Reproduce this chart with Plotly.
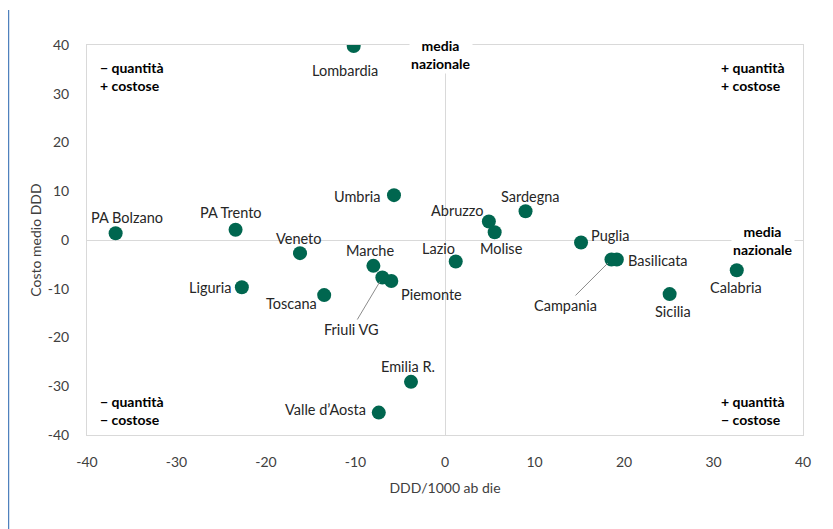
import plotly.graph_objects as go

regions = ["Lombardia", "PA Bolzano", "PA Trento", "Veneto", "Umbria", "Marche",
           "Liguria", "Toscana", "Friuli VG", "Piemonte", "Emilia R.", "Valle d’Aosta",
           "Sardegna", "Abruzzo", "Molise", "Lazio", "Puglia", "Basilicata",
           "Campania", "Calabria", "Sicilia"]
ddd = [-10.2, -36.8, -23.4, -16.2, -5.7, -8.0,
       -22.7, -13.5, -7.0, -6.0, -3.8, -7.4,
       9.0, 4.9, 5.55, 1.2, 15.2, 19.2,
       18.6, 32.6, 25.1]
costo = [39.8, 1.4, 2.1, -2.7, 9.2, -5.3,
         -9.7, -11.3, -7.7, -8.4, -29.1, -35.4,
         5.9, 3.8, 1.6, -4.4, -0.5, -4.0,
         -4.0, -6.2, -11.1]
x_ticks = [-40, -30, -20, -10, 0, 10, 20, 30, 40]
x_tick_labels = ["-40", "-30", "-20", "-10", "0", "10", "20", "30", "40"]
y_ticks = [-40, -30, -20, -10, 0, 10, 20, 30, 40]
y_tick_labels = ["-40", "-30", "-20", "-10", "0", "10", "20", "30", "40"]

# label offsets in pixels (style only)
label_shift = {
    "Lombardia": (-9, -25), "PA Bolzano": (11, 16), "PA Trento": (-5, 17),
    "Veneto": (-2, 15), "Umbria": (-37, -1), "Marche": (-3, 15),
    "Liguria": (-31, 0), "Toscana": (-33, -8), "Piemonte": (40, -14),
    "Emilia R.": (-3, 15), "Valle d’Aosta": (-53, 3), "Sardegna": (5, 15),
    "Abruzzo": (-32, 11), "Molise": (7, -16), "Lazio": (-17, 13),
    "Puglia": (29, 7), "Basilicata": (41, -1), "Calabria": (-1, -17),
    "Sicilia": (3, -17),
}
leader = {"Friuli VG": (-31, 52), "Campania": (-46, 46)}

FONT = "Lato"
TXT = "#262626"
TICK = "#404040"
GRID = "#d9d9d9"
LSIZE = 14.5

fig = go.Figure()
fig.add_trace(go.Scatter(
    x=ddd, y=costo, mode="markers",
    marker=dict(size=14, color="#00664F"),
    hoverinfo="text", text=regions, showlegend=False,
))

ann = []
for name, xv, yv in zip(regions, ddd, costo):
    if name in leader:
        ax, ay = leader[name]
        ann.append(dict(x=xv, y=yv, xref="x", yref="y", text=name, showarrow=True,
                        arrowhead=0, arrowwidth=1, arrowcolor="#8c8c8c",
                        ax=ax, ay=ay, standoff=5,
                        font=dict(family=FONT, size=LSIZE, color=TXT)))
    else:
        dx, dy = label_shift[name]
        ann.append(dict(x=xv, y=yv, xref="x", yref="y", text=name, showarrow=False,
                        xshift=dx, yshift=dy,
                        font=dict(family=FONT, size=LSIZE, color=TXT)))

bold = dict(family=FONT, size=14, color="#000000")
ann += [
    dict(x=0.015, y=0.918, xref="paper", yref="paper", xanchor="left", yanchor="middle",
         text="<b>− quantità<br>+ costose</b>", showarrow=False, align="left", font=bold),
    dict(x=0.977, y=0.918, xref="paper", yref="paper", xanchor="right", yanchor="middle",
         text="<b>+ quantità<br>+ costose</b>", showarrow=False, align="left", font=bold),
    dict(x=0.015, y=0.064, xref="paper", yref="paper", xanchor="left", yanchor="middle",
         text="<b>− quantità<br>− costose</b>", showarrow=False, align="left", font=bold),
    dict(x=0.977, y=0.064, xref="paper", yref="paper", xanchor="right", yanchor="middle",
         text="<b>+ quantità<br>− costose</b>", showarrow=False, align="left", font=bold),
    dict(x=-0.4, y=0.975, xref="x", yref="paper", xanchor="center", yanchor="middle",
         text="<b>media<br>nazionale</b>", showarrow=False, align="center",
         bgcolor="white", font=bold),
    dict(x=0.944, y=0.5, xref="paper", yref="paper", xanchor="center", yanchor="middle",
         text="<b>media<br>nazionale</b>", showarrow=False, align="center",
         bgcolor="white", font=bold),
]

fig.update_layout(
    width=833, height=529,
    margin=dict(l=79, r=38, t=37, b=102),
    plot_bgcolor="white", paper_bgcolor="white",
    annotations=ann,
    font=dict(family=FONT, size=14, color=TICK),
    xaxis=dict(range=[-40, 40], tickvals=x_ticks, ticktext=x_tick_labels, showgrid=False,
               zeroline=True, zerolinecolor=GRID, zerolinewidth=1,
               showline=True, linecolor=GRID, linewidth=1, mirror=True,
               ticks="", ticklabelstandoff=14,
               tickfont=dict(family=FONT, size=14, color=TICK),
               title=dict(text="DDD/1000 ab die", standoff=14,
                          font=dict(family=FONT, size=14, color=TICK))),
    yaxis=dict(range=[-40, 40], tickvals=y_ticks, ticktext=y_tick_labels, showgrid=False,
               zeroline=True, zerolinecolor=GRID, zerolinewidth=1,
               showline=True, linecolor=GRID, linewidth=1, mirror=True,
               ticks="", ticklabelstandoff=14,
               tickfont=dict(family=FONT, size=14, color=TICK),
               title=dict(text="Costo medio DDD", standoff=2,
                          font=dict(family=FONT, size=14, color=TICK))),
    shapes=[dict(type="line", xref="paper", yref="paper",
                 x0=-0.110, x1=-0.110, y0=-0.25, y1=1.09,
                 line=dict(color="#4F81BD", width=2))],
)

fig.write_html("out.html")
